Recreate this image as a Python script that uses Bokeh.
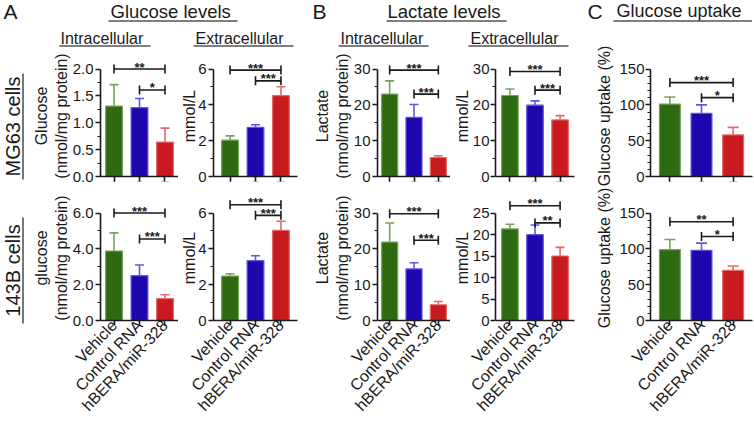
import numpy as np
from bokeh.plotting import figure
from bokeh.layouts import column, row
from bokeh.models import FactorRange, Range1d, FixedTicker, ColumnDataSource, PrintfTickFormatter, Title
from bokeh.transform import dodge
from bokeh.core.properties import value
from bokeh.embed import file_html
from bokeh.resources import INLINE

# ---------------- data ----------------
groups = ["Vehicle", "Control RNA", "hBERA/miR-328"]

# MG63 cells (top row)
mg63_glc_intra = [1.31, 1.28, 0.64]
mg63_glc_intra_sd = [0.40, 0.17, 0.26]
mg63_glc_extra = [2.03, 2.74, 4.51]
mg63_glc_extra_sd = [0.24, 0.15, 0.50]
mg63_lac_intra = [23.0, 16.5, 5.3]
mg63_lac_intra_sd = [3.7, 3.6, 0.5]
mg63_lac_extra = [22.6, 19.9, 15.8]
mg63_lac_extra_sd = [1.8, 1.2, 1.2]
mg63_uptake = [101, 88, 58]
mg63_uptake_sd = [10, 12, 10.5]

# 143B cells (bottom row)
b143_glc_intra = [3.88, 2.51, 1.22]
b143_glc_intra_sd = [1.01, 0.59, 0.22]
b143_glc_extra = [2.48, 3.34, 5.03]
b143_glc_extra_sd = [0.13, 0.27, 0.51]
b143_lac_intra = [21.9, 14.4, 4.4]
b143_lac_intra_sd = [5.3, 1.7, 0.9]
b143_lac_extra = [21.3, 19.95, 15.0]
b143_lac_extra_sd = [1.1, 2.25, 2.0]
b143_uptake = [99, 98, 70]
b143_uptake_sd = [14, 10, 6]

# significance brackets: (height, stars) for Vehicle-vs-hBERA and Control-vs-hBERA
mg63_sig = [[(2.0, "**"), (1.61, "*")],
            [(5.94, "***"), (5.34, "***")],
            [(29.7, "***"), (23.0, "***")],
            [(29.3, "***"), (24.1, "***")],
            [(131, "***"), (110, "*")]]
b143_sig = [[(6.0, "***"), (4.55, "***")],
            [(6.46, "***"), (5.87, "***")],
            [(29.8, "***"), (22.4, "***")],
            [(26.7, "***"), (22.7, "**")],
            [(137.7, "**"), (117.3, "*")]]

# axis ticks
ticks_glc_mg63 = [0, 0.5, 1.0, 1.5, 2.0]
minor_glc_mg63 = [0.25, 0.75, 1.25, 1.75]
ticks_0_6 = [0, 2, 4, 6]
minor_0_6 = [1, 3, 5]
ticks_0_30 = [0, 10, 20, 30]
minor_0_30 = [5, 15, 25]
ticks_0_25 = [0, 5, 10, 15, 20, 25]
minor_0_25 = []
ticks_0_150 = [0, 50, 100, 150]
minor_0_150 = [10, 20, 30, 40, 60, 70, 80, 90, 110, 120, 130, 140]

# y labels: (outer line, line next to axis)
ylabels_top = [("Glucose", "(nmol/mg protein)"), (None, "mmol/L"), ("Lactate", "(nmol/mg protein)"),
               (None, "mmol/L"), (None, "Glucose uptake (%)")]
ylabels_bot = [("glucose", "(nmol/mg protein)"), (None, "mmol/L"), ("Lactate", "(nmol/mg protein)"),
               (None, "mmol/L"), (None, "Glucose uptake (%)")]

# ---------------- style / layout ----------------
FONT = "Liberation Sans"
FILL = ["#2f6a12", "#1e08ad", "#c91b1f"]
EDGE = ["#76a35a", "#6257dc", "#e36a6a"]
AX = "#1a1a1a"
UL = "#555555"

COL_EDGES = [0, 27, 178, 298, 446, 575, 752]
FRAMES_X = [(100, 178), (209, 293), (373, 446), (488, 567), (643, 745)]
PADS = [0.02, 0.10, 0.0, 0.05, 0.075]
LBL_STANDOFF = [0, -3, 0, -1, 3]
TICK_STANDOFF = [2, 2, 2, 1, 1]
CAP = [9, 9, 9, 9, 11]
TOP_H = 25
ROW_EDGES = [0, 50, 190, 421]
C_ROW_EDGES = [0, 25, 187, 421]
ROW_FRAMES = [(55, 176, 68.5), (195, 320, 212.5)]  # frame top, x-axis y, top tick y


def blank(w, h, xr, yr):
    p = figure(title=None, frame_width=w, frame_height=h, x_range=xr, y_range=yr,
               output_backend="svg", toolbar_location=None, min_border=0)
    p.axis.visible = False
    p.grid.visible = False
    p.outline_line_color = None
    p.background_fill_color = "white"
    p.border_fill_color = "white"
    return p


def make_panel(r, c, vals, sds, sig, ticks, minors, fmt, ylabel, show_x):
    x0, x1 = COL_EDGES[c + 1], COL_EDGES[c + 2]
    fl, fr = FRAMES_X[c]
    edges = C_ROW_EDGES if c == 4 else ROW_EDGES
    y0, y1 = edges[r + 1], edges[r + 2]
    ft, fb, yt = ROW_FRAMES[r]
    top_tick = ticks[-1]
    ymax = top_tick * (fb - ft) / (fb - yt)
    p = figure(title=None, frame_width=fr - fl, frame_height=fb - ft,
               x_range=FactorRange(factors=groups, range_padding=PADS[c]),
               y_range=Range1d(0, ymax),
               output_backend="svg", toolbar_location=None,
               min_border_left=fl - x0, min_border_right=x1 - fr,
               min_border_top=ft - y0, min_border_bottom=y1 - fb)
    p.grid.visible = False
    p.outline_line_color = None
    p.background_fill_color = "white"
    p.border_fill_color = "white"

    src = ColumnDataSource(dict(g=groups, v=vals,
                                top=[a + b for a, b in zip(vals, sds)],
                                fill=FILL, edge=EDGE))
    p.segment(x0="g", y0="v", x1="g", y1="top", source=src, line_color="edge", line_width=1.6)
    p.scatter(x="g", y="top", source=src, marker="dash", size=CAP[c], line_color="edge", line_width=1.6)
    p.vbar(x="g", top="v", width=0.66, source=src, fill_color="fill", line_color="edge", line_width=1.2)

    bsrc = ColumnDataSource(dict(a=[groups[0], groups[1]], b=[groups[2], groups[2]],
                                 y=[s[0] for s in sig]))
    p.segment(x0="a", y0="y", x1="b", y1="y", source=bsrc, line_color=AX, line_width=1.6)
    p.scatter(x="a", y="y", source=bsrc, marker="dash", angle=np.pi / 2, size=9, line_color=AX, line_width=1.6)
    p.scatter(x="b", y="y", source=bsrc, marker="dash", angle=np.pi / 2, size=9, line_color=AX, line_width=1.6)
    s1 = ColumnDataSource(dict(m=[groups[1]], y=[sig[0][0]], s=[sig[0][1]]))
    s2 = ColumnDataSource(dict(m=[groups[1]], y=[sig[1][0]], s=[sig[1][1]]))
    for src_s, off in ((s1, 0.0), (s2, 0.5)):
        p.text(x=dodge("m", off, range=p.x_range), y="y", text="s", source=src_s,
               text_align="center", text_baseline="middle", y_offset=-2,
               text_font=value(FONT), text_font_size="13px", text_font_style="bold",
               text_color=AX)

    # y axis
    ya = p.yaxis[0]
    ya.ticker = FixedTicker(ticks=ticks, minor_ticks=minors)
    ya.formatter = PrintfTickFormatter(format=fmt)
    ya.bounds = (0, top_tick)
    ya.axis_label = ylabel[1]
    ya.axis_label_text_font = FONT
    ya.axis_label_text_font_size = "16px"
    ya.axis_label_text_font_style = "normal"
    ya.axis_label_text_color = AX
    ya.axis_label_standoff = LBL_STANDOFF[c]
    ya.major_label_text_font = FONT
    ya.major_label_text_font_size = "15px"
    ya.major_label_text_color = AX
    ya.major_label_standoff = TICK_STANDOFF[c]
    if ylabel[0]:
        p.add_layout(Title(text=ylabel[0], align="center", text_font=FONT, text_font_size="16px",
                           text_font_style="normal", text_color=AX, standoff=0, offset=0), "left")

    for ax in (ya, p.xaxis[0]):
        ax.axis_line_color = AX
        ax.axis_line_width = 1.6
        ax.major_tick_line_color = AX
        ax.major_tick_line_width = 1.6
        ax.major_tick_out = 5
        ax.major_tick_in = 0
        ax.minor_tick_line_color = AX
        ax.minor_tick_line_width = 1.2
        ax.minor_tick_out = 3
        ax.minor_tick_in = 0

    xa = p.xaxis[0]
    if show_x:
        xa.major_label_orientation = 0.82
        xa.major_label_text_font = FONT
        xa.major_label_text_font_size = "16px"
        xa.major_label_text_color = AX
        xa.major_label_standoff = -3
    else:
        xa.major_label_overrides = {g: "" for g in groups}
        xa.major_label_standoff = 0
        xa.major_label_text_font_size = "1px"
    return p


top_vals = [(mg63_glc_intra, mg63_glc_intra_sd), (mg63_glc_extra, mg63_glc_extra_sd),
            (mg63_lac_intra, mg63_lac_intra_sd), (mg63_lac_extra, mg63_lac_extra_sd),
            (mg63_uptake, mg63_uptake_sd)]
bot_vals = [(b143_glc_intra, b143_glc_intra_sd), (b143_glc_extra, b143_glc_extra_sd),
            (b143_lac_intra, b143_lac_intra_sd), (b143_lac_extra, b143_lac_extra_sd),
            (b143_uptake, b143_uptake_sd)]
top_ticks = [(ticks_glc_mg63, minor_glc_mg63, "%.1f"), (ticks_0_6, minor_0_6, "%d"),
             (ticks_0_30, minor_0_30, "%d"), (ticks_0_30, minor_0_30, "%d"),
             (ticks_0_150, minor_0_150, "%d")]
bot_ticks = [(ticks_0_6, minor_0_6, "%.1f"), (ticks_0_6, minor_0_6, "%d"),
             (ticks_0_30, minor_0_30, "%d"), (ticks_0_25, minor_0_25, "%d"),
             (ticks_0_150, minor_0_150, "%d")]


def header_fig(xa, xb, ya, hh, items, lines):
    """blank strip; positions given in picture pixels (y downward from the picture top)."""
    p = blank(xb - xa, hh, Range1d(xa, xb), Range1d(0, hh))
    for t, x, yc, s in items:
        p.text(x=[x], y=[hh - (yc - ya)], text=[t], text_font=value(FONT), text_font_size=s,
               text_baseline="middle", text_align="left", text_color=AX)
    if lines:
        p.segment(x0=[l[0] for l in lines], y0=[hh - (l[2] - ya) for l in lines],
                  x1=[l[1] for l in lines], y1=[hh - (l[2] - ya) for l in lines],
                  line_color=UL, line_width=1.6)
    return p


header_top = header_fig(0, COL_EDGES[6], 0, TOP_H,
                        [("A", 3, 10.5, "21px"), ("Glucose levels", 110, 10.5, "18.5px"),
                         ("B", 312, 10.5, "21px"), ("Lactate levels", 387, 10.5, "18.5px"),
                         ("C", 587, 10.5, "21px"), ("Glucose uptake", 616, 10.5, "18px")],
                        [(108, 237, 20.5), (386, 506, 20.5), (613, COL_EDGES[6], 20.5)])
header_sub = header_fig(0, COL_EDGES[5], TOP_H, ROW_EDGES[1] - TOP_H,
                        [("Intracellular", 60, 38, "16px"), ("Extracellular", 195, 38, "16px"),
                         ("Intracellular", 340, 38, "16px"), ("Extracellular", 470, 38, "16px")],
                        [(59, 150, 45.5), (193, 293, 45.5), (338, 428, 45.5), (468, 568, 45.5)])

ab_rows = []
c_figs = []
for r, (vals_list, tick_list, ylabs, cell_name, cy, uy) in enumerate([
        (top_vals, top_ticks, ylabels_top, "MG63 cells", 121, (68, 174)),
        (bot_vals, bot_ticks, ylabels_bot, "143B cells", 265, (212, 318))]):
    y0, y1 = ROW_EDGES[r + 1], ROW_EDGES[r + 2]
    h = y1 - y0
    left = blank(COL_EDGES[1], h, Range1d(0, COL_EDGES[1]), Range1d(0, h))
    left.text(x=[12.5], y=[y1 - cy], text=[cell_name], angle=np.pi / 2, text_font=value(FONT),
              text_font_size="20px", text_align="center", text_baseline="middle", text_color=AX)
    left.segment(x0=[22.5], y0=[y1 - uy[0]], x1=[22.5], y1=[y1 - uy[1]], line_color=UL, line_width=1.6)
    figs = [left]
    sigs = mg63_sig if r == 0 else b143_sig
    for c in range(5):
        v, sd = vals_list[c]
        tk, mn, fmt = tick_list[c]
        pnl = make_panel(r, c, v, sd, sigs[c], tk, mn, fmt, ylabs[c], r == 1)
        if c < 4:
            figs.append(pnl)
        else:
            c_figs.append(pnl)
    ab_rows.append(row(*figs, spacing=0))

left_block = column(header_sub, *ab_rows, spacing=0)
right_block = column(*c_figs, spacing=0)
layout = column(header_top, row(left_block, right_block, spacing=0), spacing=0)
open("out.html", "w").write(file_html(layout, INLINE))
